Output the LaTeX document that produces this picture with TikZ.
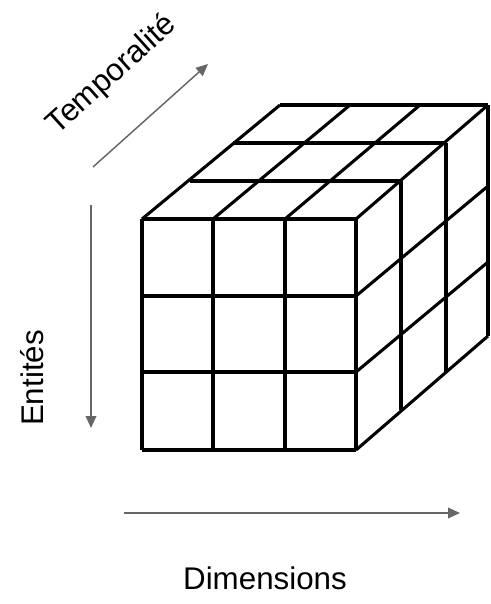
\documentclass[tikz,border=0pt]{standalone}
\usepackage{fontspec}
\setmainfont{Liberation Sans}
\usetikzlibrary{arrows.meta}
\definecolor{arrowgray}{HTML}{666666}
\tikzset{
  cubeline/.style={draw=black, line width=2.3pt},
  axisarrow/.style={draw=arrowgray, line width=1.1pt, -{Triangle[length=9pt,width=8pt]}},
  axislabel/.style={font=\fontsize{23.5}{28}\selectfont, inner sep=0pt, text=black}
}
\begin{document}
\begin{tikzpicture}[x=0.75pt, y=-0.75pt]
\useasboundingbox (0,0) rectangle (490,604);
% front face
\foreach \xx in {142,213,285,356} \draw[cubeline] (\xx,219) -- (\xx,450);
\foreach \yy in {219,296,372,450} \draw[cubeline] (142,\yy) -- (356,\yy);
% top face
\draw[cubeline] (190,181) -- (401,181);
\draw[cubeline] (233,143) -- (446,143);
\draw[cubeline] (280,105) -- (488,105);
\draw[cubeline] (142,219) -- (280,105);
\draw[cubeline] (213,219) -- (350,105);
\draw[cubeline] (285,219) -- (420,105);
\draw[cubeline] (356,219) -- (488,105);
% right face
\draw[cubeline] (401,181) -- (401,410);
\draw[cubeline] (446,143) -- (446,373);
\draw[cubeline] (488,105) -- (488,336);
\draw[cubeline] (356,296) -- (488,186);
\draw[cubeline] (356,372) -- (488,262);
\draw[cubeline] (356,450) -- (488,336);
% axes
\coordinate (t0) at (93,167);
\coordinate (t1) at (208,64);
\coordinate (e0) at (91,205);
\coordinate (e1) at (91,428);
\coordinate (d0) at (124,513);
\coordinate (d1) at (460,513);
\draw[axisarrow] (t0) -- (t1);
\draw[axisarrow] (e0) -- (e1);
\draw[axisarrow] (d0) -- (d1);
\node[axislabel, rotate=42] (temp) at (112,75) {Temporalité};
\node[axislabel, rotate=90] (ent) at (32,378) {Entités};
\node[axislabel] (dim) at (265,578) {Dimensions};
\end{tikzpicture}
\end{document}
